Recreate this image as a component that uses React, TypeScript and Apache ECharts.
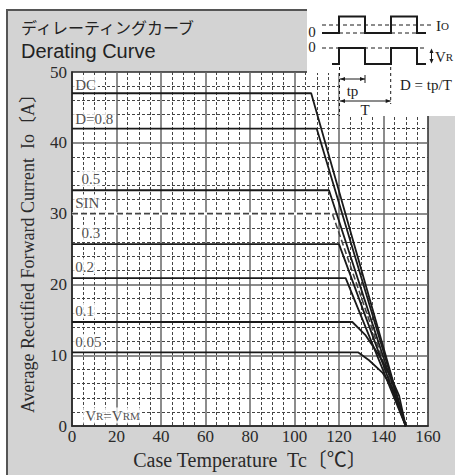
import React, { useEffect, useRef } from "react";
import * as echarts from "echarts";

// ---- data ----
const xTicks = [0, 20, 40, 60, 80, 100, 120, 140, 160];
const yTicks = [0, 10, 20, 30, 40, 50];

const curveDC = [[0, 47], [107.5, 47], [150, 0]];
const curveD08 = [[0, 42], [110, 42], [150, 0]];
const curveD05 = [[0, 33.3], [115.5, 33.3], [150, 0]];
const curveSIN = [[0, 30], [117, 30], [150, 0]];
const curveD03 = [[0, 25.7], [120, 25.7], [150, 0]];
const curveD02 = [[0, 20.9], [123, 20.9], [150, 0]];
const curveD01 = [[0, 14.7], [126, 14.7], [132, 12.8], [138, 10.0], [143.5, 6.8], [147, 4.3], [150, 0]];
const curveD005 = [[0, 10.4], [128.7, 10.4], [133.5, 9.3], [139.5, 7.55], [144, 5.35], [147.8, 2.3], [150, 0]];

const labelTexts = ["DC", "D=0.8", "0.5", "SIN", "0.3", "0.2", "0.1", "0.05", "V{s|R}=V{s|RM}"];
const labelX = [0.5, 0.5, 3.3, 0.5, 3.3, 0.5, 0.5, 0.5, 5];
const labelY = [48.3, 43.5, 34.9, 31.6, 27.3, 22.6, 16.3, 11.9, 1.5];

const serif = "'Liberation Serif', 'Times New Roman', 'Noto Sans CJK JP', serif";
const ink = "#1a1a1a";

function tri(points: number[][]) {
  return { type: "polygon", z: 12, shape: { points }, style: { fill: ink } };
}
function ln(x1: number, y1: number, x2: number, y2: number, w = 1, dash?: number[]) {
  return {
    type: "line",
    z: 12,
    shape: { x1, y1, x2, y2 },
    style: { stroke: ink, lineWidth: w, lineDash: dash },
  };
}
function txt(text: string, x: number, y: number, size: number, align = "left", family = serif, rich?: any) {
  return {
    type: "text",
    z: 12,
    x,
    y,
    style: {
      text,
      fill: "#222",
      font: `${size}px ${family}`,
      fontSize: size,
      fontFamily: family,
      lineHeight: size,
      align,
      textAlign: align,
      verticalAlign: "middle",
      textVerticalAlign: "middle",
      rich,
    },
  };
}

export default function App() {
  const ref = useRef<HTMLDivElement>(null);
  useEffect(() => {
    if (!ref.current) return;
    const chart = echarts.init(ref.current, undefined, { renderer: "svg" });
    const lineSeries = (data: number[][], extra: any = {}) => ({
      type: "line",
      data,
      symbol: "none",
      z: 3,
      lineStyle: { color: ink, width: 1.8 },
      ...extra,
    });
    const richSmall = { s: { fontSize: 11, fontFamily: serif, color: "#222" } };
    const option: any = {
      animation: false,
      backgroundColor: "#fff",
      textStyle: { fontFamily: serif },
      grid: {
        left: 72,
        right: 27,
        top: 72,
        bottom: 47,
        show: true,
        backgroundColor: "#fff",
        borderColor: "#2a2a2a",
        borderWidth: 1.5,
      },
      xAxis: {
        type: "value",
        min: xTicks[0],
        max: xTicks[xTicks.length - 1],
        interval: xTicks[1] - xTicks[0],
        name: "Case Temperature  Tc〔℃〕",
        nameLocation: "middle",
        nameGap: 20,
        nameTextStyle: { fontSize: 20, color: "#2a2a2a", fontFamily: serif },
        axisLine: { show: true, onZero: false, lineStyle: { color: "#2a2a2a", width: 1.5 } },
        axisTick: { show: false },
        axisLabel: { fontSize: 17, color: "#2a2a2a", margin: 2, fontFamily: serif },
        splitLine: {
          show: true,
          showMinLine: false,
          showMaxLine: false,
          lineStyle: { color: "#666", width: 1.5 },
        },
        minorTick: { show: false, splitNumber: 4 },
        minorSplitLine: { show: true, lineStyle: { color: "#444", width: 1, type: [3, 2] } },
      },
      yAxis: {
        type: "value",
        min: yTicks[0],
        max: yTicks[yTicks.length - 1],
        interval: yTicks[1] - yTicks[0],
        name: "Average Rectified Forward Current  Io〔A〕",
        nameLocation: "middle",
        nameGap: 35,
        nameTextStyle: { fontSize: 18, color: "#2a2a2a", fontFamily: serif },
        axisLine: { show: true, onZero: false, lineStyle: { color: "#2a2a2a", width: 1.5 } },
        axisTick: { show: false },
        axisLabel: { fontSize: 17, color: "#2a2a2a", margin: 5, fontFamily: serif },
        splitLine: {
          show: true,
          showMinLine: false,
          showMaxLine: false,
          lineStyle: { color: "#666", width: 1.5 },
        },
        minorTick: { show: false, splitNumber: 5 },
        minorSplitLine: { show: true, lineStyle: { color: "#444", width: 1, type: [3, 2] } },
      },
      series: [
        lineSeries(curveDC),
        lineSeries(curveD08),
        lineSeries(curveD05),
        lineSeries(curveSIN.slice(0, 2), { z: 2, lineStyle: { color: "#fff", width: 3 } }),
        lineSeries(curveSIN, { lineStyle: { color: "#444", width: 1.6, type: [6, 3] } }),
        lineSeries(curveD03),
        lineSeries(curveD02),
        lineSeries(curveD01),
        lineSeries(curveD005),
        {
          type: "scatter",
          z: 4,
          symbol: "circle",
          symbolSize: 0.1,
          itemStyle: { color: "rgba(0,0,0,0)" },
          data: labelTexts.map((t, i) => ({ name: t, value: [labelX[i], labelY[i]] })),
          label: {
            show: true,
            position: "right",
            distance: 0,
            formatter: (p: any) => p.name,
            backgroundColor: "#fff",
            padding: [1, 2, 0, 2],
            fontSize: 15,
            fontFamily: serif,
            color: "#222",
            rich: richSmall,
          },
        },
      ],
      graphic: [
        {
          type: "rect",
          z: -10,
          shape: { x: 7, y: 10, width: 460, height: 480 },
          style: { fill: "#d3d3d3", stroke: "#555", lineWidth: 2 },
        },
        txt("ディレーティングカーブ", 21, 27, 16, "left", "'Noto Sans CJK JP', sans-serif"),
        txt("Derating Curve", 21, 50.5, 20, "left", "'Liberation Sans', Arial, sans-serif"),
        // inset background
        { type: "rect", z: 10, shape: { x: 307, y: 9, width: 150, height: 64 }, style: { fill: "#fff" } },
        { type: "rect", z: 10, shape: { x: 339.5, y: 72, width: 117, height: 44 }, style: { fill: "#fff" } },
        // Io waveform
        ln(322, 25, 434, 25, 1, [4, 3]),
        ln(339, 33, 365, 33, 1, [4, 3]),
        ln(391, 33, 417, 33, 1, [4, 3]),
        {
          type: "polyline",
          z: 12,
          shape: {
            points: [[322, 33], [339, 33], [339, 16.5], [365, 16.5], [365, 33], [391, 33], [391, 16.5], [417, 16.5], [417, 33], [426, 33]],
          },
          style: { stroke: ink, lineWidth: 2, fill: "none" },
        },
        txt("0", 312, 32, 15, "center"),
        txt("I{s|O}", 436, 26, 15, "left", serif, richSmall),
        // VR waveform
        ln(322, 48, 426, 48, 1, [4, 3]),
        {
          type: "polyline",
          z: 12,
          shape: {
            points: [[332, 64], [339, 64], [339, 48], [365, 48], [365, 64], [391, 64], [391, 48], [417, 48], [417, 64], [426, 64]],
          },
          style: { stroke: ink, lineWidth: 2, fill: "none" },
        },
        txt("0", 312, 47, 15, "center"),
        ln(431.5, 50, 431.5, 62, 1),
        tri([[431.5, 48.5], [429.5, 53], [433.5, 53]]),
        tri([[431.5, 63.5], [429.5, 59], [433.5, 59]]),
        txt("V{s|R}", 435, 57, 15, "left", serif, richSmall),
        // tp, T markers
        ln(339.5, 67, 339.5, 116, 1, [3, 3]),
        ln(390.7, 67, 390.7, 104, 1, [3, 3]),
        ln(365, 75, 365, 83, 1),
        ln(340, 79, 365, 79, 1),
        tri([[340, 79], [345, 77], [345, 81]]),
        tri([[365, 79], [360, 77], [360, 81]]),
        txt("tp", 352.5, 91, 15, "center"),
        ln(340, 101, 390.7, 101, 1),
        tri([[340, 101], [345, 99], [345, 103]]),
        tri([[390.7, 101], [385.7, 99], [385.7, 103]]),
        txt("T", 365, 110, 15, "center"),
        txt("D = tp/T", 400, 85, 15, "left"),
      ],
    };
    chart.setOption(option);
    return () => chart.dispose();
  }, []);
  return (
    <div
      ref={ref}
      style={{ position: "fixed", left: 0, top: 0, width: 455, height: 475 }}
    />
  );
}
